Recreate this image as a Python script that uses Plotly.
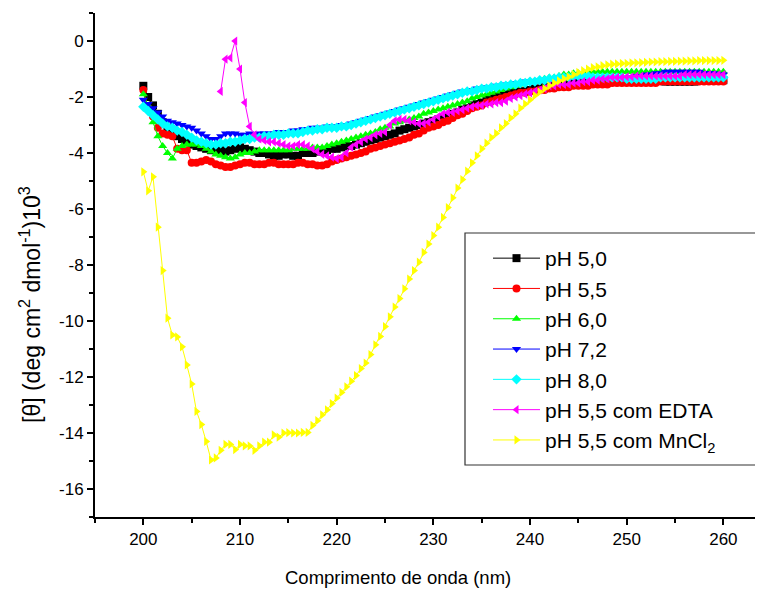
import plotly.graph_objects as go

# wavelength grid (nm), 0.5 nm steps from 200 to 260
wavelength = [200 + 0.5 * i for i in range(121)]

ph50 = [
    -1.6, -2.0, -2.3, -2.6, -2.9, -3.1, -3.3, -3.4, -3.5, -3.6,
    -3.7, -3.75, -3.8, -3.85, -3.9, -3.9, -3.9, -3.95, -3.9, -3.85,
    -3.8, -3.85, -3.9, -3.95, -4.0, -4.0, -4.05, -4.1, -4.1, -4.05,
    -4.05, -4.1, -4.1, -4.0, -4.0, -4.0, -3.95, -3.9, -3.9, -3.85,
    -3.85, -3.8, -3.75, -3.75, -3.7, -3.65, -3.6, -3.55, -3.5, -3.45,
    -3.4, -3.35, -3.3, -3.2, -3.15, -3.1, -3.05, -3.0, -2.95, -2.9,
    -2.85, -2.8, -2.75, -2.7, -2.6, -2.55, -2.45, -2.4, -2.3, -2.25,
    -2.2, -2.1, -2.05, -2.0, -1.95, -1.9, -1.85, -1.85, -1.8, -1.8,
    -1.75, -1.7, -1.7, -1.65, -1.65, -1.6, -1.6, -1.55, -1.55, -1.5,
    -1.5, -1.5, -1.5, -1.45, -1.45, -1.45, -1.45, -1.45, -1.4, -1.4,
    -1.4, -1.4, -1.4, -1.4, -1.4, -1.4, -1.4, -1.4, -1.45, -1.45,
    -1.45, -1.45, -1.45, -1.45, -1.45, -1.4, -1.4, -1.4, -1.4, -1.4,
    -1.4,
]

ph55 = [
    -1.75, -2.4, -2.7, -3.1, -3.3, -3.35, -3.4, -3.85, -3.9, -3.9,
    -4.35, -4.35, -4.3, -4.25, -4.3, -4.4, -4.45, -4.5, -4.5, -4.45,
    -4.4, -4.35, -4.35, -4.4, -4.4, -4.4, -4.35, -4.35, -4.4, -4.4,
    -4.4, -4.4, -4.35, -4.35, -4.4, -4.4, -4.45, -4.45, -4.4, -4.3,
    -4.25, -4.2, -4.15, -4.1, -4.05, -4.0, -3.95, -3.85, -3.8, -3.75,
    -3.7, -3.65, -3.6, -3.55, -3.5, -3.45, -3.35, -3.3, -3.2, -3.1,
    -3.05, -3.0, -2.9, -2.85, -2.75, -2.65, -2.6, -2.5, -2.4, -2.35,
    -2.3, -2.2, -2.15, -2.1, -2.05, -2.0, -1.95, -1.9, -1.85, -1.85,
    -1.8, -1.8, -1.75, -1.75, -1.7, -1.7, -1.65, -1.65, -1.65, -1.6,
    -1.6, -1.6, -1.6, -1.55, -1.55, -1.55, -1.55, -1.5, -1.5, -1.5,
    -1.5, -1.5, -1.5, -1.5, -1.5, -1.5, -1.5, -1.45, -1.45, -1.45,
    -1.45, -1.45, -1.45, -1.45, -1.45, -1.45, -1.45, -1.45, -1.45, -1.45,
    -1.45,
]

ph60 = [
    -1.9, -2.3, -2.9, -3.4, -3.75, -4.0, -4.2, -3.85, -3.75, -3.7,
    -3.7, -3.7, -3.75, -3.85, -3.95, -4.05, -4.1, -4.15, -4.2, -4.15,
    -4.05, -4.0, -4.0, -3.95, -3.9, -3.9, -3.9, -3.9, -3.9, -3.9,
    -3.9, -3.85, -3.85, -3.85, -3.85, -3.8, -3.8, -3.8, -3.75, -3.7,
    -3.65, -3.6, -3.55, -3.5, -3.45, -3.4, -3.35, -3.3, -3.25, -3.15,
    -3.1, -3.05, -2.95, -2.9, -2.85, -2.8, -2.75, -2.7, -2.6, -2.55,
    -2.5, -2.45, -2.4, -2.35, -2.3, -2.25, -2.2, -2.15, -2.05, -2.0,
    -1.95, -1.9, -1.85, -1.8, -1.75, -1.7, -1.65, -1.6, -1.55, -1.5,
    -1.45, -1.45, -1.4, -1.35, -1.3, -1.3, -1.25, -1.2, -1.2, -1.15,
    -1.15, -1.15, -1.1, -1.1, -1.1, -1.1, -1.1, -1.1, -1.1, -1.1,
    -1.1, -1.1, -1.1, -1.1, -1.1, -1.1, -1.1, -1.1, -1.1, -1.1,
    -1.1, -1.1, -1.1, -1.1, -1.1, -1.1, -1.1, -1.1, -1.1, -1.1,
    -1.1,
]

ph72 = [
    -2.1, -2.25, -2.4, -2.55, -2.7, -2.85, -2.9, -2.95, -3.0, -3.05,
    -3.1, -3.2, -3.3, -3.4, -3.5, -3.5, -3.4, -3.3, -3.3, -3.3,
    -3.35, -3.35, -3.3, -3.35, -3.3, -3.3, -3.3, -3.3, -3.25, -3.25,
    -3.25, -3.2, -3.2, -3.15, -3.15, -3.1, -3.1, -3.1, -3.05, -3.05,
    -3.05, -3.0, -3.0, -2.95, -2.9, -2.85, -2.8, -2.75, -2.7, -2.65,
    -2.6, -2.55, -2.5, -2.45, -2.4, -2.35, -2.3, -2.25, -2.2, -2.15,
    -2.1, -2.05, -2.0, -1.95, -1.9, -1.85, -1.8, -1.8, -1.75, -1.7,
    -1.7, -1.65, -1.65, -1.6, -1.6, -1.55, -1.55, -1.5, -1.5, -1.45,
    -1.45, -1.45, -1.4, -1.4, -1.4, -1.35, -1.35, -1.35, -1.3, -1.3,
    -1.3, -1.3, -1.3, -1.3, -1.3, -1.3, -1.3, -1.3, -1.3, -1.3,
    -1.3, -1.3, -1.25, -1.25, -1.2, -1.2, -1.15, -1.15, -1.1, -1.1,
    -1.1, -1.1, -1.1, -1.1, -1.1, -1.1, -1.15, -1.15, -1.15, -1.2,
    -1.2,
]

ph80 = [
    -2.35, -2.5, -2.65, -2.8, -2.95, -3.05, -3.1, -3.2, -3.25, -3.35,
    -3.45, -3.55, -3.6, -3.65, -3.7, -3.7, -3.65, -3.65, -3.6, -3.6,
    -3.55, -3.5, -3.5, -3.45, -3.45, -3.4, -3.4, -3.35, -3.35, -3.35,
    -3.3, -3.3, -3.3, -3.25, -3.2, -3.2, -3.15, -3.15, -3.1, -3.1,
    -3.1, -3.05, -3.05, -3.0, -2.95, -2.9, -2.85, -2.8, -2.75, -2.7,
    -2.65, -2.6, -2.55, -2.5, -2.45, -2.4, -2.35, -2.3, -2.25, -2.2,
    -2.15, -2.1, -2.05, -2.0, -1.95, -1.9, -1.85, -1.8, -1.8, -1.75,
    -1.7, -1.7, -1.65, -1.65, -1.6, -1.6, -1.55, -1.55, -1.5, -1.5,
    -1.45, -1.45, -1.4, -1.4, -1.35, -1.35, -1.3, -1.3, -1.3, -1.25,
    -1.25, -1.25, -1.25, -1.3, -1.3, -1.3, -1.3, -1.3, -1.3, -1.3,
    -1.35, -1.35, -1.35, -1.35, -1.35, -1.35, -1.35, -1.3, -1.3, -1.3,
    -1.3, -1.3, -1.3, -1.3, -1.3, -1.3, -1.3, -1.3, -1.3, -1.3,
    -1.3,
]

ph55_edta = [
    None, None, None, None, None, None, None, None, None, None,
    None, None, None, None, None, None, -1.8, -0.65, -0.6, 0.0,
    -1.0, -2.2, -3.05, -3.35, -3.5, -3.55, -3.6, -3.6, -3.65, -3.7,
    -3.75, -3.75, -3.7, -3.7, -3.75, -3.85, -3.95, -4.05, -4.1, -4.15,
    -4.2, -4.15, -4.0, -3.8, -3.7, -3.6, -3.5, -3.45, -3.35, -3.3,
    -3.25, -3.0, -2.85, -2.8, -2.8, -2.85, -2.9, -2.95, -2.95, -2.9,
    -2.8, -2.7, -2.6, -2.55, -2.55, -2.5, -2.45, -2.4, -2.35, -2.3,
    -2.3, -2.25, -2.25, -2.2, -2.2, -2.15, -2.05, -2.0, -1.95, -1.9,
    -1.85, -1.8, -1.75, -1.7, -1.6, -1.6, -1.55, -1.55, -1.55, -1.5,
    -1.5, -1.45, -1.45, -1.4, -1.4, -1.35, -1.35, -1.3, -1.3, -1.3,
    -1.28, -1.28, -1.25, -1.25, -1.25, -1.25, -1.25, -1.25, -1.25, -1.25,
    -1.25, -1.25, -1.2, -1.2, -1.2, -1.2, -1.2, -1.2, -1.2, -1.2,
    -1.2,
]

ph55_mncl2 = [
    -4.67, -5.35, -4.85, -6.65, -8.2, -9.9, -10.5, -10.57, -10.92, -11.57,
    -12.25, -13.23, -13.7, -14.3, -14.96, -14.89, -14.62, -14.41, -14.41, -14.59,
    -14.41, -14.46, -14.46, -14.62, -14.46, -14.33, -14.33, -14.07, -14.15, -14.0,
    -13.99, -14.0, -14.0, -13.98, -13.98, -13.73, -13.56, -13.35, -13.17, -12.95,
    -12.75, -12.55, -12.35, -12.15, -11.95, -11.7, -11.5, -11.2, -10.85, -10.55,
    -10.2, -9.85, -9.5, -9.2, -8.85, -8.5, -8.2, -7.9, -7.55, -7.25,
    -6.95, -6.65, -6.3, -5.95, -5.6, -5.25, -4.95, -4.65, -4.35, -4.1,
    -3.85, -3.65, -3.45, -3.3, -3.1, -2.95, -2.75, -2.6, -2.4, -2.25,
    -2.1, -1.95, -1.82, -1.7, -1.6, -1.5, -1.42, -1.35, -1.28, -1.2,
    -1.12, -1.06, -1.0, -0.95, -0.92, -0.88, -0.85, -0.83, -0.82, -0.8,
    -0.8, -0.78, -0.78, -0.77, -0.76, -0.75, -0.75, -0.74, -0.74, -0.73,
    -0.73, -0.72, -0.72, -0.71, -0.71, -0.7, -0.7, -0.7, -0.7, -0.7,
    -0.69,
]

series_names = ["pH 5,0", "pH 5,5", "pH 6,0", "pH 7,2", "pH 8,0",
                "pH 5,5 com EDTA", "pH 5,5 com MnCl<sub>2</sub>"]
series_values = [ph50, ph55, ph60, ph72, ph80, ph55_edta, ph55_mncl2]
colors = ["#000000", "#ff0000", "#00ff00", "#0000ff", "#00ffff", "#ff00ff", "#ffff00"]
symbols = ["square", "circle", "triangle-up", "triangle-down", "diamond",
           "triangle-left", "triangle-right"]

x_tickvals = [200, 210, 220, 230, 240, 250, 260]
y_tickvals = [0, -2, -4, -6, -8, -10, -12, -14, -16]
y_ticktext = ["0", "-2", "-4", "-6", "-8", "-10", "-12", "-14", "-16"]

fig = go.Figure()
for i, (name, vals) in enumerate(zip(series_names, series_values)):
    fig.add_trace(go.Scatter(
        x=wavelength, y=vals, name=name, mode="lines+markers",
        line=dict(color=colors[i], width=1),
        marker=dict(symbol=symbols[i], color=colors[i], size=8, line=dict(width=0)),
        legendgroup=f"g{i}",
    ))

FONT = "Liberation Sans, Arial, sans-serif"
# page body has an 8px offset, so the figure is drawn 8px smaller
PL, PT, PW, PH = 87, 5, 668, 504
OX, OY = 95, 13  # plot-area top-left on the page


def px(xp):
    return (xp - OX) / PW


def py(yp):
    return (OY + PH - yp) / PH


fig.update_layout(
    width=755, height=581,
    margin=dict(l=PL, r=755 - PL - PW, t=PT, b=581 - PT - PH),
    paper_bgcolor="white", plot_bgcolor="white",
    font=dict(family=FONT, size=17, color="black"),
    showlegend=True,
    legend=dict(
        x=px(488), y=py(238), xanchor="left", yanchor="top",
        borderwidth=0, bgcolor="rgba(0,0,0,0)",
        font=dict(family=FONT, size=21, color="black"),
        tracegroupgap=0, itemwidth=47,
    ),
    shapes=[dict(type="rect", xref="paper", yref="paper",
                 x0=px(465), x1=px(758), y0=py(465), y1=py(233),
                 line=dict(color="#333333", width=1.2), fillcolor="white", layer="above")],
    xaxis=dict(
        range=[195, 264.1], showgrid=False, zeroline=False,
        showline=True, linecolor="black", linewidth=1.5,
        ticks="outside", ticklen=6, tickwidth=1.5, tickcolor="black",
        tickvals=x_tickvals,
        minor=dict(ticks="outside", ticklen=4, tickwidth=1.5, tickcolor="black", dtick=5, tick0=195),
        tickfont=dict(size=17),
    ),
    yaxis=dict(
        range=[-17, 1], showgrid=False, zeroline=False,
        showline=True, linecolor="black", linewidth=2,
        ticks="outside", ticklen=6, tickwidth=1.5, tickcolor="black",
        tickvals=y_tickvals, ticktext=y_ticktext,
        minor=dict(ticks="outside", ticklen=4, tickwidth=1.5, tickcolor="black", dtick=1, tick0=1),
        tickfont=dict(size=17),
    ),
    annotations=[
        dict(text="Comprimento de onda (nm)", xref="paper", yref="paper",
             x=px(398), y=py(577), xanchor="center", yanchor="middle",
             showarrow=False, font=dict(size=18.5)),
        dict(text="[θ] (deg cm<sup>2</sup> dmol<sup>-1</sup>)10<sup>3</sup>", xref="paper", yref="paper",
             x=px(30), y=py(305), xanchor="center", yanchor="middle",
             textangle=-90, showarrow=False, font=dict(size=23)),
    ],
)

fig.write_html("out.html")
